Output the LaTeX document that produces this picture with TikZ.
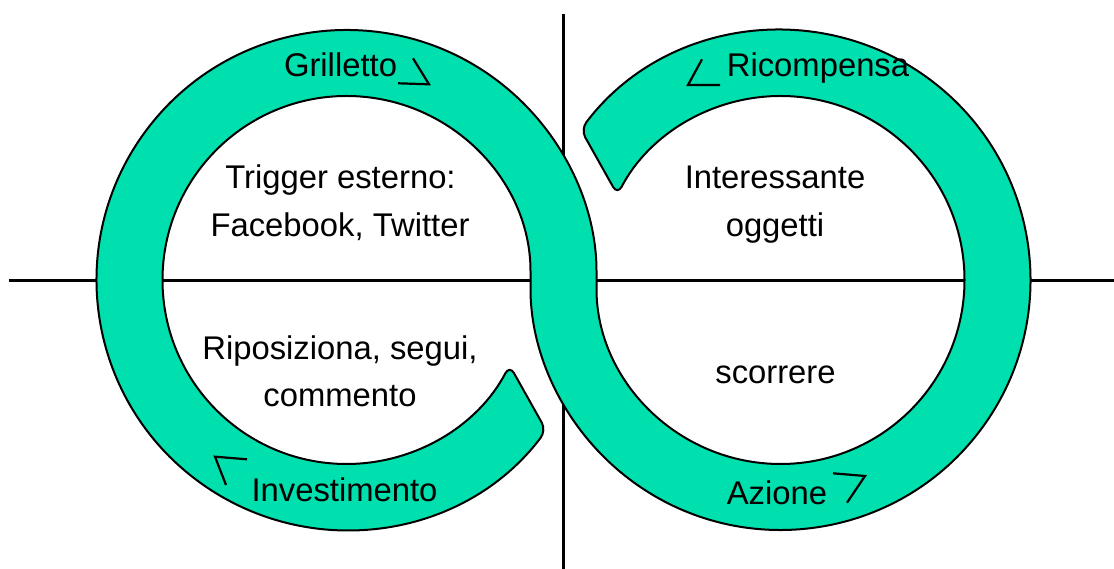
\documentclass[tikz,border=0pt]{standalone}
\usepackage{fontspec}
\setmainfont{Liberation Sans}
\usetikzlibrary{calc}
\definecolor{bandteal}{HTML}{00DFAE}
\tikzset{
  band/.style={fill=bandteal, draw=black, line width=2pt, rounded corners=9pt, line join=round},
  axis/.style={draw=black, line width=2.7pt},
  chev/.style={draw=black, line width=2.2pt, line join=miter},
  lbl/.style={anchor=base, inner sep=0pt, font=\fontsize{32.8}{38}\selectfont}
}
\begin{document}
\begin{tikzpicture}[x=1pt,y=1pt]
\useasboundingbox (0,0) rectangle (1114,569);
\coordinate (L) at (346.5,289);
\coordinate (R) at (780.5,289);
\coordinate (hl) at (9,288.5);
\coordinate (hr) at (1114,288.5);
\coordinate (vt) at (563.5,555);
\coordinate (vb) at (563.5,0);
\draw[axis] (hl) -- (hr);
\draw[axis] (vt) -- (vb);
\path[band] ($(L)+(-37:250)$)
  arc[start angle=-37, end angle=-360, radius=250]
  arc[start angle=180, end angle=512.4, radius=184]
  -- ($(R)+(143:250)$)
  arc[start angle=143, end angle=-180, radius=250]
  arc[start angle=0, end angle=332.4, radius=184]
  -- cycle;
% labels on the band
\node[lbl] (grill) at (340.5,492.3) {Grilletto};
\node[lbl] (ricomp) at (818,492.3) {Ricompensa};
\node[lbl] (invest) at (344.5,67.3) {Investimento};
\node[lbl] (azione) at (777,64) {Azione};
% chevrons
\draw[chev] (413,510.7) -- (429,484.7) -- (398,485.7);
\draw[chev] (702,509.7) -- (688,484) -- (720,484);
\draw[chev] (247,109.7) -- (215,112.3) -- (226,84);
\draw[chev] (833,95.7) -- (865,93) -- (847,66.3);
% inner texts
\node[lbl] (t1) at (340.5,380.5) {Trigger esterno:};
\node[lbl] (t2) at (340,332) {Facebook, Twitter};
\node[lbl] (t3) at (775,380) {Interessante};
\node[lbl] (t4) at (775,332) {oggetti};
\node[lbl] (t5) at (340,209.5) {Riposiziona, segui,};
\node[lbl] (t6) at (340,162.5) {commento};
\node[lbl] (t7) at (775.5,185.5) {scorrere};
\end{tikzpicture}
\end{document}
